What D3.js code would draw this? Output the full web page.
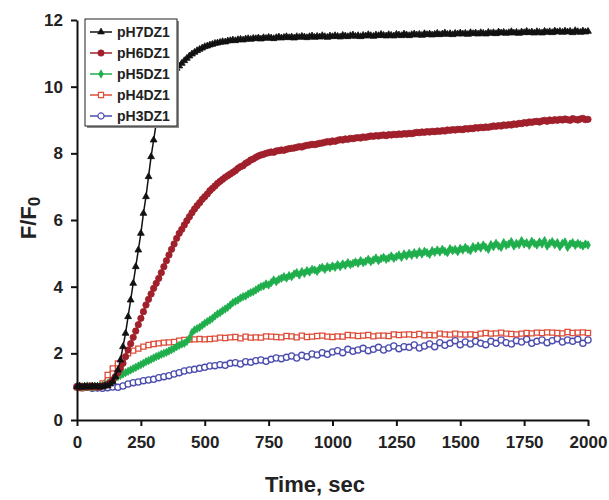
<!DOCTYPE html>
<html>
<head>
<meta charset="utf-8">
<script src="https://cdn.jsdelivr.net/npm/d3@7"></script>
<style>
  body { margin: 0; background: #fff; }
  svg text { font-family: "Liberation Sans", Arial, sans-serif; font-weight: bold; fill: #222; }
</style>
</head>
<body>
<script>
// sample times (sec)
var time10 = d3.range(0, 2001, 10);
var time20 = d3.range(0, 2001, 20);

var xTicks = [0, 250, 500, 750, 1000, 1250, 1500, 1750, 2000];
var yTicks = [0, 2, 4, 6, 8, 10, 12];
var names = ["pH7DZ1", "pH6DZ1", "pH5DZ1", "pH4DZ1", "pH3DZ1"];

// pH7, every 10 s
var pH7 = [
 1.00,1.02,0.98,1.01,1.00,0.99,1.02,1.00,1.01,0.99,
 1.00,1.02,1.03,1.08,1.15,1.30,1.50,1.80,2.20,2.60,
 3.10,3.60,4.10,4.60,5.10,5.60,6.20,6.70,7.30,7.90,
 8.40,8.90,9.40,9.80,10.10,10.30,10.40,10.45,10.50,10.55,
 10.62,10.70,10.78,10.85,10.92,10.98,11.03,11.08,11.12,11.16,
 11.20,11.22,11.25,11.27,11.30,11.31,11.33,11.35,11.34,11.37,
 11.38,11.40,11.38,11.41,11.42,11.40,11.43,11.44,11.42,11.45,
 11.44,11.46,11.43,11.47,11.45,11.48,11.46,11.44,11.47,11.49,
 11.46,11.48,11.50,11.47,11.49,11.46,11.50,11.48,11.51,11.49,
 11.47,11.50,11.52,11.48,11.51,11.49,11.53,11.50,11.48,11.52,
 11.50,11.53,11.51,11.49,11.54,11.52,11.50,11.53,11.55,11.51,
 11.53,11.50,11.54,11.52,11.56,11.53,11.51,11.55,11.53,11.57,
 11.54,11.52,11.56,11.54,11.52,11.57,11.55,11.53,11.58,11.55,
 11.53,11.56,11.58,11.55,11.57,11.54,11.59,11.56,11.58,11.55,
 11.57,11.60,11.56,11.58,11.61,11.57,11.59,11.56,11.60,11.58,
 11.61,11.58,11.60,11.57,11.62,11.59,11.61,11.58,11.62,11.60,
 11.58,11.63,11.60,11.62,11.59,11.64,11.61,11.63,11.60,11.62,
 11.65,11.61,11.63,11.60,11.64,11.62,11.66,11.62,11.64,11.61,
 11.65,11.63,11.61,11.66,11.63,11.65,11.62,11.67,11.64,11.66,
 11.63,11.67,11.64,11.66,11.62,11.68,11.65,11.63,11.67,11.64,11.66
];

// pH6, every 10 s
var pH6 = [
 1.00,0.98,1.01,1.00,0.99,1.02,1.00,1.01,0.99,1.00,
 1.02,1.04,1.07,1.12,1.20,1.30,1.42,1.55,1.70,1.90,
 2.10,2.29,2.48,2.67,2.86,3.05,3.25,3.45,3.62,3.78,
 3.95,4.10,4.25,4.42,4.60,4.78,4.95,5.12,5.28,5.45,
 5.60,5.72,5.85,5.98,6.10,6.22,6.33,6.43,6.52,6.62,
 6.70,6.78,6.88,6.95,7.02,7.10,7.16,7.22,7.28,7.33,
 7.38,7.43,7.48,7.55,7.60,7.63,7.70,7.74,7.80,7.83,
 7.88,7.92,7.95,7.97,8.00,8.02,8.04,8.03,8.07,8.08,
 8.10,8.09,8.12,8.14,8.15,8.16,8.18,8.20,8.19,8.22,
 8.24,8.25,8.27,8.26,8.28,8.30,8.31,8.33,8.35,8.34,
 8.37,8.36,8.39,8.41,8.40,8.43,8.42,8.45,8.44,8.46,
 8.47,8.46,8.49,8.48,8.50,8.52,8.51,8.53,8.52,8.54,
 8.55,8.53,8.56,8.55,8.57,8.56,8.58,8.57,8.59,8.58,
 8.60,8.59,8.61,8.63,8.62,8.64,8.63,8.65,8.64,8.66,
 8.65,8.67,8.66,8.68,8.67,8.70,8.69,8.71,8.70,8.72,
 8.72,8.71,8.74,8.73,8.75,8.74,8.77,8.76,8.78,8.77,
 8.79,8.78,8.80,8.82,8.81,8.83,8.82,8.85,8.84,8.86,
 8.85,8.88,8.87,8.90,8.89,8.92,8.91,8.94,8.93,8.95,
 8.96,8.94,8.97,8.99,8.96,9.00,8.98,9.01,8.99,9.02,
 9.00,9.03,9.01,8.99,9.04,9.02,9.00,9.03,9.05,9.01,9.02
];

// pH5, every 10 s
var pH5 = [
 1.00,1.01,0.99,1.00,1.02,1.00,0.99,1.01,1.00,1.02,
 1.03,1.06,1.10,1.15,1.20,1.25,1.30,1.34,1.38,1.42,
 1.46,1.50,1.54,1.58,1.62,1.66,1.70,1.75,1.78,1.82,
 1.86,1.90,1.93,1.97,2.00,2.03,2.07,2.11,2.15,2.20,
 2.24,2.28,2.30,2.36,2.45,2.62,2.70,2.74,2.78,2.84,
 2.90,2.95,3.00,3.05,3.12,3.18,3.22,3.28,3.33,3.38,
 3.45,3.52,3.56,3.60,3.66,3.70,3.72,3.78,3.82,3.85,
 3.90,3.95,4.00,4.02,4.08,4.05,4.12,4.20,4.15,4.22,
 4.25,4.30,4.26,4.33,4.30,4.38,4.42,4.35,4.45,4.40,
 4.48,4.44,4.52,4.50,4.46,4.55,4.58,4.52,4.60,4.56,
 4.62,4.58,4.66,4.60,4.68,4.64,4.72,4.66,4.70,4.74,
 4.70,4.78,4.72,4.76,4.82,4.75,4.80,4.86,4.78,4.84,
 4.88,4.82,4.86,4.92,4.85,4.90,4.95,4.88,4.98,4.92,
 5.00,4.94,5.02,4.96,5.05,4.98,5.06,5.02,4.97,5.08,
 5.03,5.10,5.04,5.12,5.06,5.02,5.14,5.08,5.12,5.05,
 5.15,5.10,5.18,5.12,5.08,5.20,5.14,5.22,5.16,5.25,
 5.18,5.12,5.26,5.20,5.30,5.22,5.18,5.32,5.24,5.28,
 5.35,5.22,5.30,5.26,5.38,5.28,5.32,5.24,5.36,5.30,
 5.25,5.34,5.28,5.38,5.22,5.30,5.35,5.26,5.32,5.20,
 5.30,5.34,5.18,5.28,5.32,5.24,5.30,5.26,5.22,5.28,5.25
];

// pH4, every 20 s
var pH4 = [
 0.98,0.96,0.97,0.97,0.99,1.10,1.35,1.55,1.70,1.85,
 2.00,2.08,2.14,2.20,2.25,2.28,2.30,2.32,2.33,2.34,
 2.38,2.40,2.41,2.42,2.43,2.42,2.43,2.44,2.47,2.46,
 2.48,2.49,2.45,2.50,2.47,2.48,2.47,2.51,2.50,2.49,
 2.48,2.52,2.51,2.48,2.53,2.49,2.50,2.52,2.53,2.50,
 2.49,2.51,2.50,2.55,2.54,2.52,2.53,2.55,2.51,2.53,
 2.53,2.52,2.57,2.55,2.56,2.57,2.55,2.58,2.54,2.55,
 2.54,2.59,2.57,2.56,2.59,2.57,2.56,2.57,2.55,2.59,
 2.61,2.59,2.60,2.62,2.59,2.58,2.57,2.59,2.61,2.60,
 2.62,2.61,2.63,2.62,2.61,2.60,2.64,2.61,2.62,2.63,
 2.61
];

// pH3, every 20 s
var pH3 = [
 1.00,0.97,0.98,0.95,0.96,0.95,0.97,0.99,0.98,1.02,
 1.08,1.12,1.14,1.18,1.20,1.22,1.27,1.30,1.33,1.38,
 1.42,1.47,1.50,1.52,1.55,1.58,1.62,1.63,1.66,1.64,
 1.70,1.72,1.68,1.75,1.73,1.78,1.80,1.76,1.82,1.86,
 1.84,1.88,1.92,1.86,1.94,1.90,1.98,1.95,2.02,1.97,
 2.04,2.08,2.02,2.12,2.06,2.10,2.15,2.08,2.12,2.18,
 2.10,2.16,2.22,2.14,2.20,2.18,2.25,2.16,2.22,2.28,
 2.20,2.32,2.24,2.30,2.38,2.26,2.34,2.28,2.36,2.30,
 2.26,2.36,2.30,2.40,2.32,2.28,2.38,2.34,2.42,2.30,
 2.36,2.40,2.32,2.38,2.44,2.34,2.40,2.36,2.42,2.30,
 2.40
];

var margin = {top: 20, right: 21, bottom: 80, left: 77},
    width = 609 - margin.left - margin.right,
    height = 500 - margin.top - margin.bottom;

var svg = d3.select("body")
    .append("svg")
    .attr("width", 609)
    .attr("height", 500);

var g = svg.append("g")
    .attr("transform", "translate(" + margin.left + "," + margin.top + ")");

var x = d3.scaleLinear().domain([0, 2000]).range([0, width]);
var y = d3.scaleLinear().domain([0, 12]).range([height, 0]);

var series = [
  {name: names[4], t: time20, v: pH3, color: "#4b4cae", sym: d3.symbolCircle, size: 30, open: true},
  {name: names[3], t: time20, v: pH4, color: "#de4d38", sym: d3.symbolSquare, size: 26, open: true},
  {name: names[2], t: time10, v: pH5, color: "#1fae4c", sym: d3.symbolDiamond, size: 20, open: false},
  {name: names[1], t: time10, v: pH6, color: "#a0202b", sym: d3.symbolCircle, size: 32, open: false},
  {name: names[0], t: time10, v: pH7, color: "#111111", sym: d3.symbolTriangle, size: 20, open: false}
];

var line = d3.line()
    .x(function(d){ return x(d[0]); })
    .y(function(d){ return y(d[1]); });

series.forEach(function(s){
  var pts = s.t.map(function(t, i){ return [t, s.v[i]]; });
  var sg = g.append("g");
  sg.append("path")
    .datum(pts)
    .attr("d", line)
    .attr("fill", "none")
    .attr("stroke", s.color)
    .attr("stroke-width", 1.5);
  sg.selectAll("path.pt")
    .data(pts)
    .enter()
    .append("path")
    .attr("class", "pt")
    .attr("transform", function(d){ return "translate(" + x(d[0]) + "," + y(d[1]) + ")"; })
    .attr("d", d3.symbol().type(s.sym).size(s.size))
    .attr("fill", s.open ? "#fff" : s.color)
    .attr("stroke", s.color)
    .attr("stroke-width", s.open ? 1.3 : 0.8);
});

// axes
var xAxis = g.append("g")
    .attr("transform", "translate(0," + height + ")")
    .call(d3.axisBottom(x).tickValues(xTicks).tickFormat(d3.format("d"))
      .tickSizeInner(6).tickSizeOuter(0).tickPadding(10));
var yAxis = g.append("g")
    .call(d3.axisLeft(y).tickValues(yTicks).tickFormat(d3.format("d"))
      .tickSizeInner(6).tickSizeOuter(0).tickPadding(8));

[xAxis, yAxis].forEach(function(a){
  a.select(".domain").attr("stroke", "#111").attr("stroke-width", 2);
  a.selectAll(".tick line").attr("stroke", "#111").attr("stroke-width", 2);
  a.selectAll(".tick text")
    .style("font-family", "'Liberation Sans', Arial, sans-serif")
    .style("font-weight", "bold")
    .style("font-size", "17px")
    .attr("fill", "#222");
});

// axis titles
svg.append("text")
    .attr("x", 315)
    .attr("y", 492)
    .attr("text-anchor", "middle")
    .style("font-size", "22px")
    .text("Time, sec");

var yt = svg.append("text")
    .attr("transform", "translate(36,218) rotate(-90)")
    .attr("text-anchor", "middle")
    .style("font-size", "22px");
yt.append("tspan").text("F/F");
yt.append("tspan").attr("dy", 4).style("font-size", "17px").text("0");

// legend
var lg = svg.append("g").attr("transform", "translate(85,19)");
lg.append("rect").attr("x", 2).attr("y", 2).attr("width", 92).attr("height", 107).attr("fill", "#8a8a8a");
lg.append("rect").attr("width", 92).attr("height", 107).attr("fill", "#fff").attr("stroke", "#222").attr("stroke-width", 1);

var legendOrder = series.slice().reverse();
legendOrder.forEach(function(s, i){
  var cy = 13 + i * 21;
  lg.append("line")
    .attr("x1", 5).attr("x2", 27).attr("y1", cy).attr("y2", cy)
    .attr("stroke", s.color).attr("stroke-width", 1.5);
  lg.append("path")
    .attr("transform", "translate(16," + cy + ")")
    .attr("d", d3.symbol().type(s.sym).size(s.size))
    .attr("fill", s.open ? "#fff" : s.color)
    .attr("stroke", s.color)
    .attr("stroke-width", s.open ? 1.2 : 0.6);
  lg.append("text")
    .attr("x", 32).attr("y", cy + 5)
    .style("font-size", "14px")
    .text(s.name);
});
</script>
</body>
</html>
